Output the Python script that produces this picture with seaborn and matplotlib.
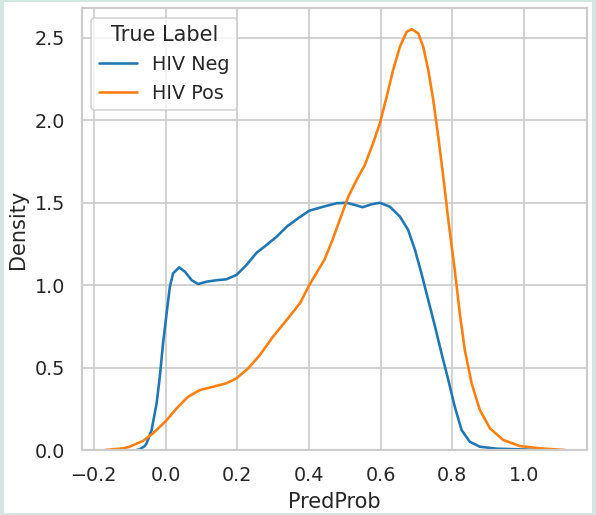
import numpy as np
import pandas as pd
import matplotlib
matplotlib.use("Agg")
import matplotlib.pyplot as plt
from matplotlib.patches import Rectangle
import seaborn as sns

# Density curves
neg_x = [-0.081, -0.072, -0.058, -0.053, -0.039, -0.025, -0.016, -0.007, 0.003, 0.012,
         0.021, 0.038, 0.054, 0.073, 0.091, 0.114, 0.142, 0.17, 0.198, 0.226,
         0.254, 0.282, 0.31, 0.338, 0.37, 0.401, 0.44, 0.477, 0.505, 0.528,
         0.55, 0.575, 0.598, 0.626, 0.654, 0.677, 0.696, 0.714, 0.733, 0.752,
         0.77, 0.789, 0.807, 0.826, 0.849, 0.877, 0.924, 0.989, 1.054]
neg_y = [0.0, 0.004, 0.024, 0.04, 0.12, 0.283, 0.445, 0.647, 0.83, 0.99,
         1.072, 1.108, 1.082, 1.03, 1.007, 1.021, 1.03, 1.036, 1.062, 1.123,
         1.197, 1.244, 1.294, 1.355, 1.406, 1.452, 1.476, 1.497, 1.5, 1.487,
         1.473, 1.491, 1.5, 1.476, 1.416, 1.335, 1.214, 1.072, 0.91, 0.748,
         0.587, 0.425, 0.263, 0.121, 0.05, 0.02, 0.008, 0.004, 0.0]

pos_x = [-0.169, -0.118, -0.1, -0.09, -0.063, -0.035, 0.001, 0.031, 0.063, 0.096,
         0.133, 0.17, 0.198, 0.231, 0.263, 0.3, 0.338, 0.375, 0.401, 0.42,
         0.443, 0.465, 0.486, 0.51, 0.533, 0.556, 0.579, 0.598, 0.617, 0.635,
         0.654, 0.673, 0.687, 0.705, 0.719, 0.733, 0.747, 0.761, 0.775, 0.789,
         0.807, 0.821, 0.835, 0.854, 0.877, 0.905, 0.942, 0.989, 1.045, 1.114]
pos_y = [0.0, 0.01, 0.02, 0.03, 0.055, 0.101, 0.176, 0.253, 0.323, 0.364,
         0.384, 0.405, 0.435, 0.496, 0.576, 0.688, 0.789, 0.89, 1.0, 1.07,
         1.153, 1.27, 1.396, 1.537, 1.638, 1.729, 1.861, 1.982, 2.144, 2.306,
         2.447, 2.538, 2.553, 2.528, 2.447, 2.306, 2.124, 1.901, 1.658, 1.396,
         1.092, 0.83, 0.607, 0.405, 0.243, 0.132, 0.061, 0.024, 0.01, 0.0]

labels = ["HIV Neg", "HIV Pos"]
x_ticks = [-0.2, 0.0, 0.2, 0.4, 0.6, 0.8, 1.0]
y_ticks = [0.0, 0.5, 1.0, 1.5, 2.0, 2.5]

df = pd.concat([
    pd.DataFrame({"PredProb": neg_x, "Density": neg_y, "True Label": labels[0]}),
    pd.DataFrame({"PredProb": pos_x, "Density": pos_y, "True Label": labels[1]}),
], ignore_index=True)

sns.set_theme(style="whitegrid")
plt.rcParams['font.family'] = ['DejaVu Sans']

dpi = 125
fig = plt.figure(figsize=(596 / dpi, 515 / dpi), dpi=dpi)
fig.patch.set_facecolor("#d2e6e2")
fig.patches.append(Rectangle((4 / 596, 2 / 515), 588 / 596, 511 / 515,
                             transform=fig.transFigure, facecolor="white",
                             edgecolor="none", zorder=-10))
ax = fig.add_axes([81.7 / 596, (515 - 450) / 515, (587 - 81.7) / 596, (450 - 8.3) / 515])
ax.set_zorder(5)

sns.lineplot(data=df, x="PredProb", y="Density", hue="True Label",
             hue_order=labels, palette=["#1f77b4", "#ff7f0e"],
             estimator=None, sort=True, linewidth=1.5, ax=ax)

ax.set_xlim(-0.234, 1.176)
ax.set_ylim(0, 2.68)
ax.set_xticks(x_ticks)
ax.set_yticks(y_ticks)
ax.set_xticklabels([f"{v:.1f}".replace("-", "\u2212") for v in x_ticks])
ax.set_yticklabels([f"{v:.1f}" for v in y_ticks])
ax.set_xlabel("PredProb")
ax.set_ylabel("Density")
ax.legend(title="True Label", loc="upper left")

fig.savefig("out.png", dpi=dpi, facecolor=fig.get_facecolor())
